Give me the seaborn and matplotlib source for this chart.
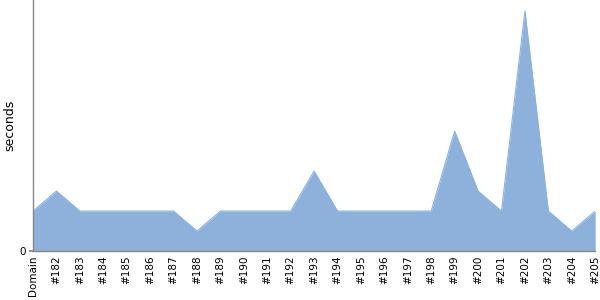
import matplotlib
matplotlib.use("Agg")
import matplotlib.pyplot as plt
import seaborn as sns
import numpy as np
import pandas as pd

categories = ["Domain", "#182", "#183", "#184", "#185", "#186", "#187", "#188",
              "#189", "#190", "#191", "#192", "#193", "#194", "#195", "#196",
              "#197", "#198", "#199", "#200", "#201", "#202", "#203", "#204", "#205"]
seconds = [2, 3, 2, 2, 2, 2, 2, 1, 2, 2, 2, 2, 4, 2, 2, 2, 2, 2, 6, 3, 2, 12, 2, 1, 2]

sns.set_theme(style="white")
plt.rcParams['font.family'] = ['DejaVu Sans']

df = pd.DataFrame({"cat": categories, "seconds": seconds})
df["pos"] = np.arange(len(df))

fig = plt.figure(figsize=(6, 3), dpi=100)
ax = fig.add_axes([0.055, 0.163, 0.937, 0.837])
color = "#8eb1db"
sns.lineplot(data=df, x="pos", y="seconds", ax=ax, color=color, linewidth=0.8)
ax.fill_between(df["pos"], 0, df["seconds"], color=color, linewidth=0)

ax.set_xlim(0, len(df) - 1)
ax.set_ylim(0, 12.55)
ax.set_xticks(df["pos"])
ax.set_xticklabels(df["cat"], rotation=90, fontsize=7.5, color="black")
ax.set_yticks([0])
ax.set_yticklabels(["0"], fontsize=7.5, color="black")
ax.set_xlabel("")
ax.set_ylabel("seconds", fontsize=9, color="black")
ax.yaxis.set_label_coords(-0.029, 0.5)
for s in ["top", "right"]:
    ax.spines[s].set_visible(False)
for s in ["left", "bottom"]:
    ax.spines[s].set_color("#888888")
    ax.spines[s].set_linewidth(1)
ax.tick_params(axis="y", length=3, color="#888888", pad=2, left=True)
ax.tick_params(axis="x", length=0, pad=3)

fig.savefig("out.png", dpi=100)
